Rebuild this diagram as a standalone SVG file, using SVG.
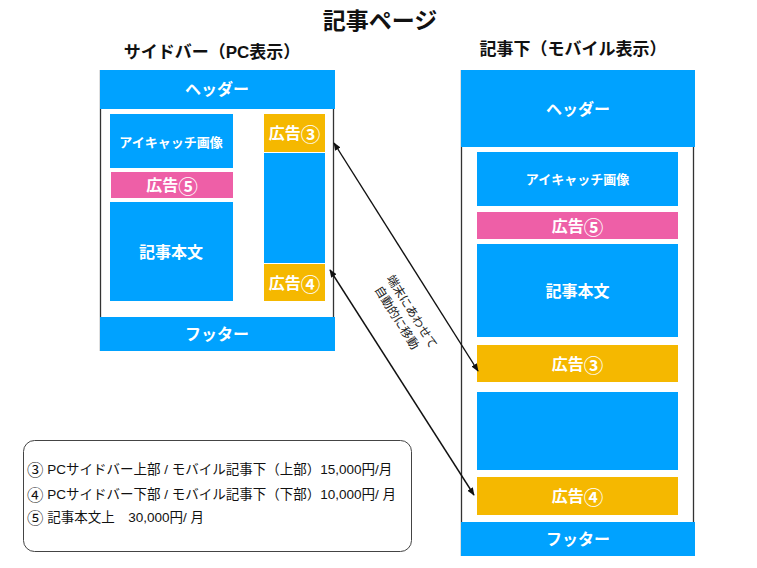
<svg xmlns="http://www.w3.org/2000/svg" width="757" height="568" viewBox="0 0 757 568">
  <defs>
    <style>
      .blue { fill: #00A2FF; }
      .ad { fill: #F5B800; }
      .pink { fill: #EE5FA7; }
      .frame { stroke: #333333; stroke-width: 1.3; fill: none; }
      .lbl { font-family: "Liberation Sans", "Noto Sans CJK JP", sans-serif; font-weight: bold; fill: #ffffff; text-anchor: middle; dominant-baseline: central; }
      .ttl { font-family: "Liberation Sans", "Noto Sans CJK JP", sans-serif; font-weight: bold; fill: #111111; text-anchor: middle; dominant-baseline: central; }
      .leg { font-family: "Liberation Sans", "Noto Sans CJK JP", sans-serif; fill: #111111; font-size: 13.5px; dominant-baseline: central; }
      .note { font-family: "Liberation Sans", "Noto Sans CJK JP", sans-serif; fill: #222222; font-size: 12px; text-anchor: middle; dominant-baseline: central; }
      .cn { font-family: "Noto Sans CJK JP", sans-serif; font-size: 122%; }
      .conn { stroke: #111111; stroke-width: 1.4; fill: none; }
    </style>
    <marker id="ah" viewBox="0 0 10 10" refX="9" refY="5" markerWidth="8" markerHeight="8" markerUnits="userSpaceOnUse" orient="auto-start-reverse">
      <path d="M0,1 L10,5 L0,9 z" fill="#111111"/>
    </marker>
  </defs>

  <rect width="757" height="568" fill="#ffffff"/>

  <g id="title">
    <text class="ttl" x="380" y="21" font-size="23">記事ページ</text>
  </g>

  <!-- Left: PC sidebar layout -->
  <g id="pc-title">
    <text class="ttl" x="212" y="52" font-size="17">サイドバー（PC表示）</text>
  </g>
  <g id="pc-frame">
    <line class="frame" x1="100.5" y1="70" x2="100.5" y2="351"/>
    <line class="frame" x1="333.5" y1="108" x2="333.5" y2="317"/>
  </g>
  <g id="pc-header">
    <rect class="blue" x="100" y="70" width="235" height="39"/>
    <text class="lbl" x="217" y="89" font-size="16">ヘッダー</text>
  </g>
  <g id="pc-eyecatch">
    <rect class="blue" x="110" y="114" width="123" height="54"/>
    <text class="lbl" x="171" y="142" font-size="13">アイキャッチ画像</text>
  </g>
  <g id="pc-ad5">
    <rect class="pink" x="111" y="172" width="122" height="26"/>
    <text class="lbl" x="172" y="185" font-size="16">広告<tspan class="cn">⑤</tspan></text>
  </g>
  <g id="pc-body">
    <rect class="blue" x="110" y="202" width="123" height="99"/>
    <text class="lbl" x="171" y="252" font-size="16">記事本文</text>
  </g>
  <g id="pc-ad3">
    <rect class="ad" x="264" y="114" width="61" height="38"/>
    <text class="lbl" x="294.5" y="133" font-size="16">広告<tspan class="cn">③</tspan></text>
  </g>
  <g id="pc-sidebar">
    <rect class="blue" x="264" y="153" width="61" height="110"/>
  </g>
  <g id="pc-ad4">
    <rect class="ad" x="264" y="264" width="61" height="37"/>
    <text class="lbl" x="294.5" y="283" font-size="16">広告<tspan class="cn">④</tspan></text>
  </g>
  <g id="pc-footer">
    <rect class="blue" x="100" y="317" width="235" height="34"/>
    <text class="lbl" x="217" y="334" font-size="16">フッター</text>
  </g>

  <!-- Right: mobile layout -->
  <g id="mb-title">
    <text class="ttl" x="573" y="49" font-size="17">記事下（モバイル表示）</text>
  </g>
  <g id="mb-frame">
    <line class="frame" x1="461.5" y1="70" x2="461.5" y2="556"/>
    <line class="frame" x1="693.5" y1="146" x2="693.5" y2="522"/>
  </g>
  <g id="mb-header">
    <rect class="blue" x="461" y="70" width="234" height="77"/>
    <text class="lbl" x="578" y="109" font-size="16">ヘッダー</text>
  </g>
  <g id="mb-eyecatch">
    <rect class="blue" x="477" y="152" width="201" height="54"/>
    <text class="lbl" x="577.5" y="179" font-size="13">アイキャッチ画像</text>
  </g>
  <g id="mb-ad5">
    <rect class="pink" x="477" y="212" width="201" height="27"/>
    <text class="lbl" x="577.5" y="226" font-size="16">広告<tspan class="cn">⑤</tspan></text>
  </g>
  <g id="mb-body">
    <rect class="blue" x="477" y="244" width="201" height="93"/>
    <text class="lbl" x="577.5" y="291" font-size="16">記事本文</text>
  </g>
  <g id="mb-ad3">
    <rect class="ad" x="477" y="345" width="201" height="37"/>
    <text class="lbl" x="577.5" y="364" font-size="16">広告<tspan class="cn">③</tspan></text>
  </g>
  <g id="mb-block">
    <rect class="blue" x="477" y="392" width="201" height="78"/>
  </g>
  <g id="mb-ad4">
    <rect class="ad" x="477" y="477" width="201" height="38"/>
    <text class="lbl" x="577.5" y="496" font-size="16">広告<tspan class="cn">④</tspan></text>
  </g>
  <g id="mb-footer">
    <rect class="blue" x="461" y="522" width="234" height="34"/>
    <text class="lbl" x="578" y="539" font-size="16">フッター</text>
  </g>

  <!-- Connectors -->
  <g id="connectors">
    <line class="conn" x1="334" y1="143" x2="478" y2="371" marker-start="url(#ah)" marker-end="url(#ah)"/>
    <line class="conn" x1="330" y1="270" x2="474" y2="495" marker-start="url(#ah)" marker-end="url(#ah)"/>
    <g transform="translate(405,316) rotate(58)">
      <text class="note" x="0" y="-8">端末にあわせて</text>
      <text class="note" x="-3" y="8">自動的に移動</text>
    </g>
  </g>

  <!-- Legend -->
  <g id="legend">
    <rect x="23.5" y="440.5" width="388" height="111" rx="11" ry="11" fill="#ffffff" stroke="#444444" stroke-width="1"/>
    <text class="leg" x="27" y="469"><tspan class="cn" font-size="110%">③</tspan> PCサイドバー上部 / モバイル記事下（上部）15,000円/月</text>
    <text class="leg" x="27" y="494"><tspan class="cn" font-size="110%">④</tspan> PCサイドバー下部 / モバイル記事下（下部）10,000円/ 月</text>
    <text class="leg" x="27" y="517"><tspan class="cn" font-size="110%">⑤</tspan> 記事本文上　30,000円/ 月</text>
  </g>
</svg>
